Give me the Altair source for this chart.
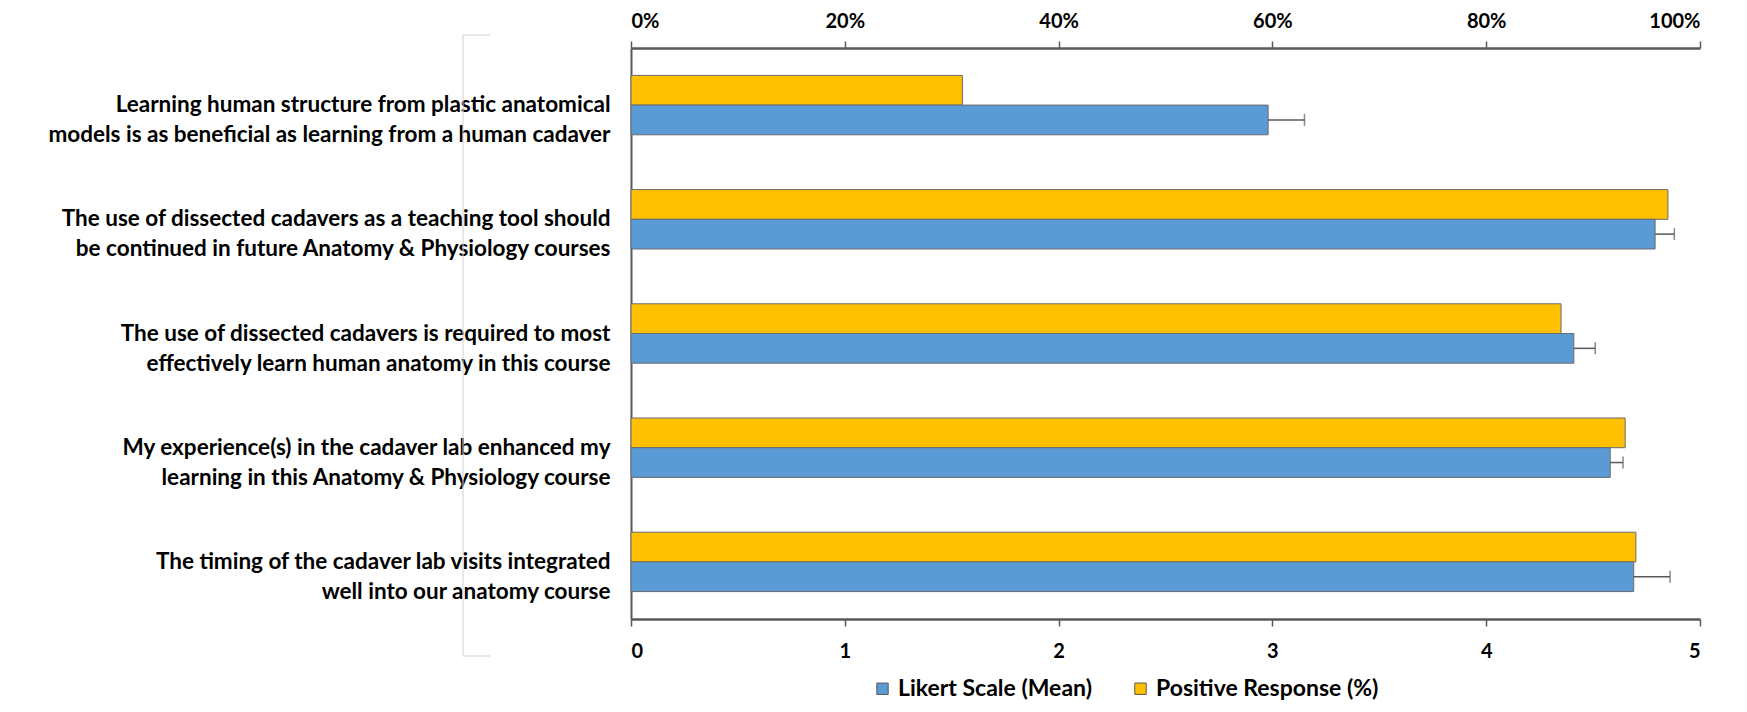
import altair as alt
import pandas as pd

categories = [
    "Learning human structure from plastic anatomical\nmodels is as beneficial as learning from a human cadaver",
    "The use of dissected cadavers as a teaching tool should\nbe continued in future Anatomy & Physiology courses",
    "The use of dissected cadavers is required to most\neffectively learn human anatomy in this course",
    "My experience(s) in the cadaver lab enhanced my\nlearning in this Anatomy & Physiology course",
    "The timing of the cadaver lab visits integrated\nwell into our anatomy course",
]
likert_mean = [2.98, 4.79, 4.41, 4.58, 4.69]
likert_err = [0.17, 0.09, 0.10, 0.06, 0.17]
positive_pct = [0.31, 0.97, 0.87, 0.93, 0.94]
series = ["Likert Scale (Mean)", "Positive Response (%)"]
colors = ["#5B9BD5", "#FFC000"]
pct_ticks = [0, 0.2, 0.4, 0.6, 0.8, 1.0]
likert_ticks = [0, 1, 2, 3, 4, 5]

FONT = "Lato"
AX = "#595959"

df_likert = pd.DataFrame({"category": categories, "series": series[0],
                          "value": likert_mean, "err": likert_err})
df_pos = pd.DataFrame({"category": categories, "series": series[1],
                       "value": positive_pct})

y_enc = alt.Y("category:N", sort=categories,
              scale=alt.Scale(domain=categories, paddingInner=0.48, paddingOuter=0.24),
              axis=alt.Axis(title=None, labelExpr="split(datum.label, '\\n')",
                            ticks=False, labelAlign="right", labelPadding=21,
                            labelLimit=900, labelFontSize=22.5, labelLineHeight=30,
                            domainColor=AX, domainWidth=2))
yoff = alt.YOffset("series:N",
                   scale=alt.Scale(domain=[series[1], series[0]], paddingInner=0, paddingOuter=0))
color_enc = alt.Color("series:N", scale=alt.Scale(domain=series, range=colors),
                      legend=alt.Legend(title=None, orient="none", legendX=240, legendY=629,
                                        direction="horizontal", symbolType="square",
                                        symbolSize=130, symbolStrokeColor=AX,
                                        symbolStrokeWidth=1, labelFont=FONT,
                                        labelFontSize=23, labelFontWeight="bold",
                                        labelColor="#000", columnPadding=37,
                                        labelOffset=4, labelLimit=400))

pos = alt.Chart(df_pos).mark_bar(stroke="#6b6b6b", strokeWidth=1).encode(
    x=alt.X("value:Q", scale=alt.Scale(domain=[0, 1], nice=False),
            axis=alt.Axis(orient="top", format=".0%", values=pct_ticks, title=None,
                          grid=False, domainColor=AX, domainWidth=2.5, tickColor=AX,
                          tickWidth=1.5, tickSize=7, labelPadding=10)),
    y=y_enc, yOffset=yoff, color=color_enc)

lik_base = alt.Chart(df_likert).transform_calculate(hi="datum.value + datum.err")
lik = lik_base.mark_bar(stroke="#6b6b6b", strokeWidth=1).encode(
    x=alt.X("value:Q", scale=alt.Scale(domain=[0, 5], nice=False),
            axis=alt.Axis(orient="bottom", format="d", values=likert_ticks, title=None,
                          grid=False, domainColor=AX, domainWidth=2.5, tickColor=AX,
                          tickWidth=1.5, tickSize=7, labelPadding=15)),
    y=y_enc, yOffset=yoff, color=color_enc)
err = lik_base.mark_rule(color=AX, strokeWidth=1.5).encode(
    x=alt.X("value:Q", title=None), x2="hi:Q", y=y_enc, yOffset=yoff)
cap = lik_base.mark_tick(orient="vertical", size=12, thickness=1.5, color=AX).encode(
    x=alt.X("hi:Q", title=None), y=y_enc, yOffset=yoff)

inner = alt.layer(lik, err, cap)

bracket_df = pd.DataFrame({"a": [0]})
br_v = alt.Chart(bracket_df).mark_rule(color="#d0d0d0", strokeWidth=1).encode(
    x=alt.value(-168), y=alt.value(-13), y2=alt.value(608))
br_t = alt.Chart(bracket_df).mark_rule(color="#d0d0d0", strokeWidth=1).encode(
    x=alt.value(-168), x2=alt.value(-141), y=alt.value(-13))
br_b = alt.Chart(bracket_df).mark_rule(color="#d0d0d0", strokeWidth=1).encode(
    x=alt.value(-168), x2=alt.value(-141), y=alt.value(608))

chart = alt.layer(br_v, br_t, br_b, pos, inner).resolve_scale(x="independent").properties(
    width=1069, height=571,
    autosize=alt.AutoSizeParams(type="none"),
    padding={"left": 623, "top": 40, "right": 39, "bottom": 85},
).configure_view(stroke=None).configure_axis(
    labelFont=FONT, labelFontWeight="bold", labelColor="#000", labelFontSize=20
)

chart.save("out.html", embed_options={"renderer": "svg", "actions": False})
